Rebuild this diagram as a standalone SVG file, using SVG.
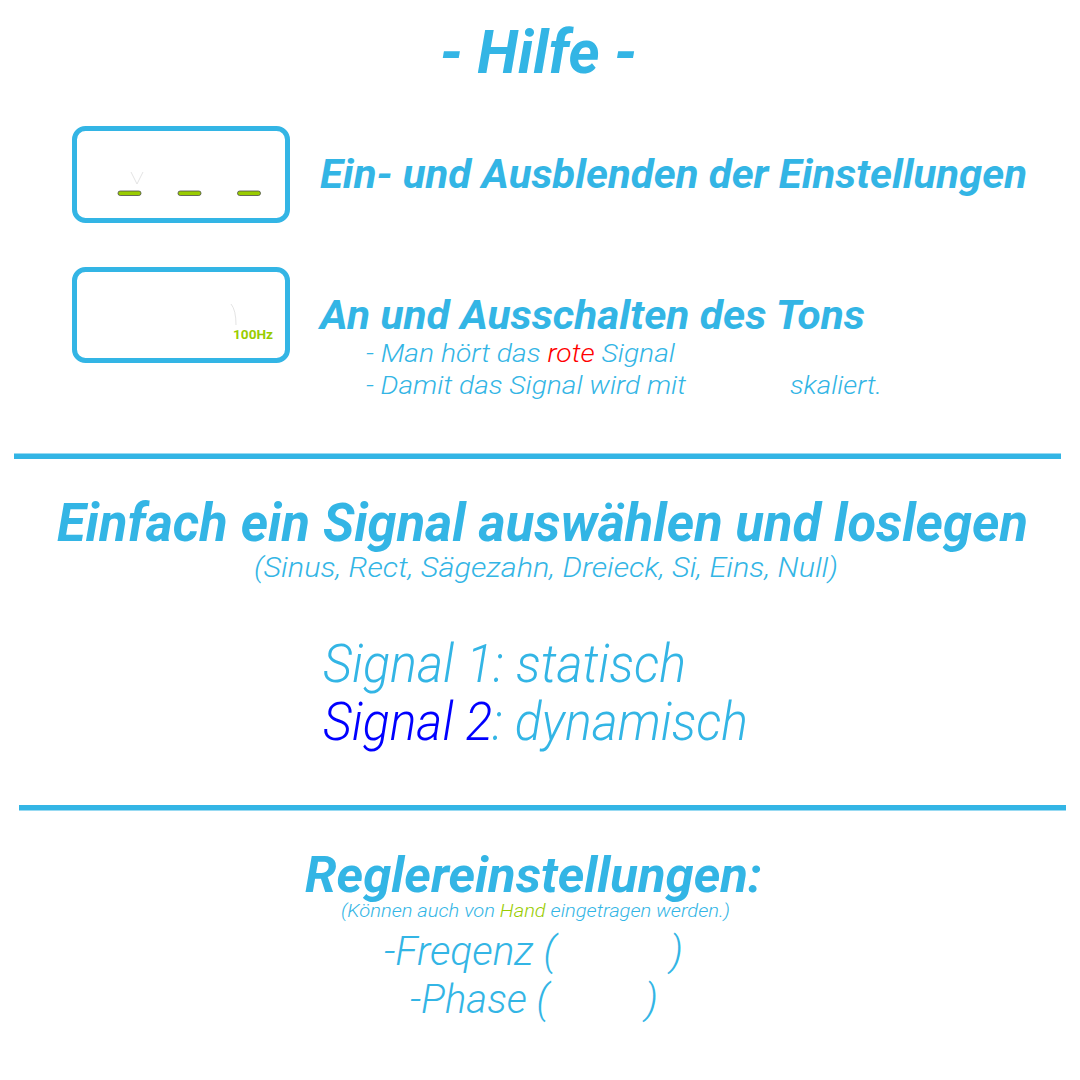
<svg xmlns="http://www.w3.org/2000/svg" width="1080" height="1080" viewBox="0 0 1080 1080">
  <style>
    .b { font-family: "Roboto", "Liberation Sans", sans-serif; font-weight: 700; font-style: italic; fill: #33b5e5; }
    .l { font-family: "Roboto", "Liberation Sans", sans-serif; font-weight: 300; font-style: italic; fill: #33b5e5; }
    .box { fill: #ffffff; stroke: #33b5e5; stroke-width: 5; }
    .dash { fill: #99cc00; stroke: #4d4d4d; stroke-width: 0.8; }
    .sep { fill: #33b5e5; }
    .faint { fill: none; stroke: #e4e4e4; stroke-width: 1; }
  </style>
  <rect width="1080" height="1080" fill="#ffffff"/>

  <g id="title">
    <text class="b" x="440" y="72.5" font-size="61" textLength="197" lengthAdjust="spacingAndGlyphs">- Hilfe -</text>
  </g>

  <g id="box-settings">
    <rect class="box" x="74.5" y="128.5" width="213" height="92" rx="11"/>
    <polyline class="faint" points="131,172 137,184 143,172"/>
    <rect class="dash" x="118" y="191" width="23" height="4.5" rx="2.2"/>
    <rect class="dash" x="178" y="191" width="23" height="4.5" rx="2.2"/>
    <rect class="dash" x="237.5" y="191" width="23" height="4.5" rx="2.2"/>
  </g>
  <g id="label-settings">
    <text class="b" x="320" y="188" font-size="40" textLength="707" lengthAdjust="spacingAndGlyphs">Ein- und Ausblenden der Einstellungen</text>
  </g>

  <g id="box-sound">
    <rect class="box" x="74.5" y="269.5" width="213" height="91" rx="11"/>
    <path class="faint" d="M231,304 Q236,310 236,325"/>
    <text x="233" y="338.5" font-family="Roboto, 'Liberation Sans', sans-serif" font-weight="700" font-size="13.5" fill="#99cc00" textLength="40" lengthAdjust="spacingAndGlyphs">100Hz</text>
  </g>
  <g id="label-sound">
    <text class="b" x="320" y="329" font-size="40" textLength="545" lengthAdjust="spacingAndGlyphs">An und Ausschalten des Tons</text>
    <text class="l" x="366" y="362" font-size="26" textLength="309" lengthAdjust="spacingAndGlyphs">- Man hört das <tspan fill="#ff0000">rote</tspan> Signal</text>
    <text class="l" x="366" y="394" font-size="26" textLength="320" lengthAdjust="spacingAndGlyphs">- Damit das Signal wird mit</text>
    <text class="l" x="790" y="394" font-size="26" textLength="92" lengthAdjust="spacingAndGlyphs">skaliert.</text>
  </g>

  <g id="connectors">
    <rect class="sep" x="14" y="453.5" width="1047" height="5.5"/>
    <rect class="sep" x="19" y="805" width="1047" height="5.5"/>
  </g>

  <g id="signal-select">
    <text class="b" x="57" y="541" font-size="53" textLength="971" lengthAdjust="spacingAndGlyphs">Einfach ein Signal auswählen und loslegen</text>
    <text class="l" x="254" y="577" font-size="28" textLength="584" lengthAdjust="spacingAndGlyphs">(Sinus, Rect, Sägezahn, Dreieck, Si, Eins, Null)</text>
  </g>

  <g id="signals">
    <text class="l" x="323" y="682" font-size="53" textLength="363" lengthAdjust="spacingAndGlyphs">Signal 1: statisch</text>
    <text class="l" x="323" y="740" font-size="53" textLength="425" lengthAdjust="spacingAndGlyphs"><tspan fill="#0000ff">Signal 2</tspan>: dynamisch</text>
  </g>

  <g id="controls">
    <text class="b" x="305" y="892" font-size="50" textLength="457" lengthAdjust="spacingAndGlyphs">Reglereinstellungen:</text>
    <text class="l" x="341" y="917" font-size="19" textLength="389" lengthAdjust="spacingAndGlyphs">(Können auch von <tspan fill="#99cc00">Hand</tspan> eingetragen werden.)</text>
    <text class="l" x="384" y="965" font-size="41" textLength="172" lengthAdjust="spacingAndGlyphs">-Freqenz (</text>
    <text class="l" x="670" y="965" font-size="41">)</text>
    <text class="l" x="410" y="1013" font-size="41" textLength="139" lengthAdjust="spacingAndGlyphs">-Phase (</text>
    <text class="l" x="645" y="1013" font-size="41">)</text>
  </g>
</svg>
